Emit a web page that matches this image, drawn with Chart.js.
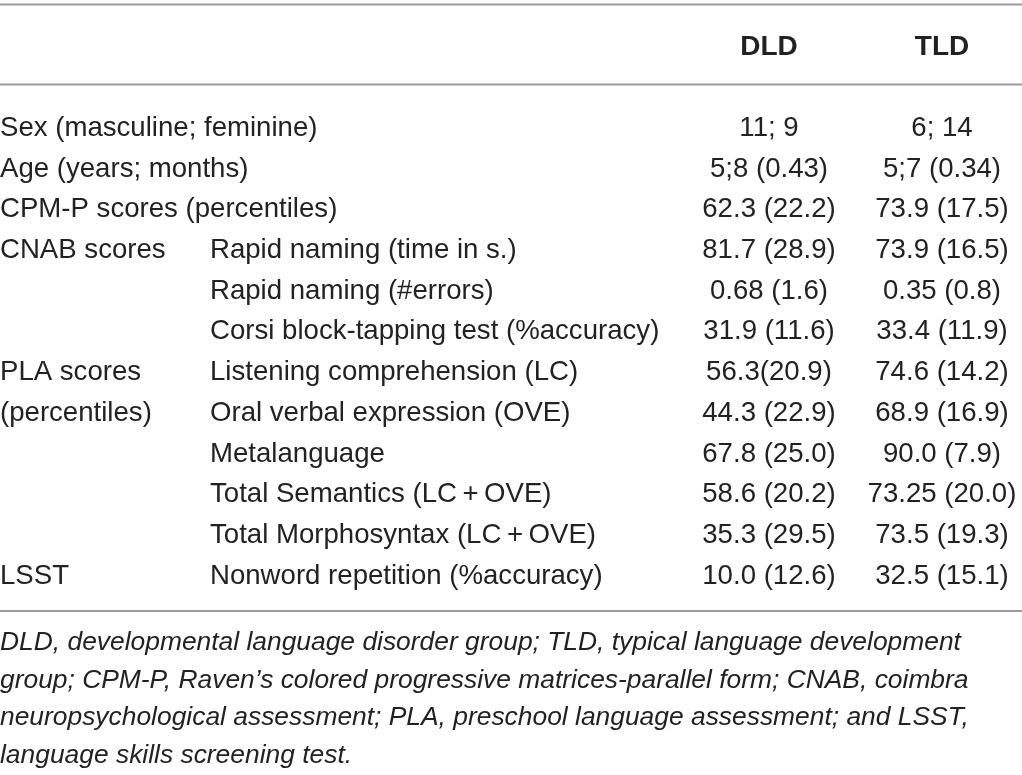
<!DOCTYPE html>
<html>
<head>
<meta charset="utf-8">
<title>DLD / TLD sample characteristics</title>
<script src="https://cdn.jsdelivr.net/npm/chart.js@4.4.1/dist/chart.umd.min.js"></script>
<style>
  html, body { margin: 0; padding: 0; background: #fff; }
  #wrap { width: 1022px; height: 775px; }
</style>
</head>
<body>
<div id="wrap"><canvas id="table" width="1022" height="775"></canvas></div>
<script>
// Table content
const columnHeaders = ['DLD', 'TLD'];

const rowGroups = [
    'Sex (masculine; feminine)',
    'Age (years; months)',
    'CPM-P scores (percentiles)',
    'CNAB scores',
    '',
    '',
    'PLA scores',
    '(percentiles)',
    '',
    '',
    '',
    'LSST'
];

const rowMeasures = [
    '',
    '',
    '',
    'Rapid naming (time in s.)',
    'Rapid naming (#errors)',
    'Corsi block-tapping test (%accuracy)',
    'Listening comprehension (LC)',
    'Oral verbal expression (OVE)',
    'Metalanguage',
    'Total Semantics (LC\u2009+\u2009OVE)',
    'Total Morphosyntax (LC\u2009+\u2009OVE)',
    'Nonword repetition (%accuracy)'
];

const dldValues = [
    '11; 9', '5;8 (0.43)', '62.3 (22.2)', '81.7 (28.9)', '0.68 (1.6)', '31.9 (11.6)',
    '56.3(20.9)', '44.3 (22.9)', '67.8 (25.0)', '58.6 (20.2)', '35.3 (29.5)', '10.0 (12.6)'
];

const tldValues = [
    '6; 14', '5;7 (0.34)', '73.9 (17.5)', '73.9 (16.5)', '0.35 (0.8)', '33.4 (11.9)',
    '74.6 (14.2)', '68.9 (16.9)', '90.0 (7.9)', '73.25 (20.0)', '73.5 (19.3)', '32.5 (15.1)'
];

const footnoteLines = [
    'DLD, developmental language disorder group; TLD, typical language development',
    'group; CPM-P, Raven\u2019s colored progressive matrices-parallel form; CNAB, coimbra',
    'neuropsychological assessment; PLA, preschool language assessment; and LSST,',
    'language skills screening test.'
];

// Layout / style
const FONT = '"Liberation Sans", Arial, Helvetica, sans-serif';
const TEXT_COLOR = '#222';
const RULE_COLOR = '#9a9a9a';
const COL_GROUP = 0;
const COL_MEASURE = 210;
const COL_DLD = 769;
const COL_TLD = 942;
const RULES_Y = [4.5, 84.5, 611];
const HEADER_BASELINE = 55;
const FOOT_BASELINE = 650;
const FOOT_STEP = 37.7;
const CAP_OFFSET = 9.8; // half cap height, centers text on the row tick

const rowKeys = rowGroups.map((g, i) => i + ':' + g + rowMeasures[i]);

// Draws rules, header, row labels, cell values and footnote
const tablePlugin = {
    id: 'tableText',
    afterDatasetsDraw(chart) {
        const ctx = chart.ctx;
        const xs = chart.scales.x;
        const ys = chart.scales.y;
        ctx.save();

        // horizontal rules
        ctx.strokeStyle = RULE_COLOR;
        ctx.lineWidth = 2;
        RULES_Y.forEach(y => {
            ctx.beginPath();
            ctx.moveTo(0, y);
            ctx.lineTo(chart.width, y);
            ctx.stroke();
        });

        ctx.fillStyle = TEXT_COLOR;
        ctx.textBaseline = 'alphabetic';

        // column headers
        ctx.font = 'bold 28px ' + FONT;
        ctx.textAlign = 'center';
        chart.data.datasets.forEach((ds, d) => {
            ctx.fillText(columnHeaders[d], xs.getPixelForValue(ds.data[0].x), HEADER_BASELINE);
        });

        // row labels
        ctx.font = '27.6px ' + FONT;
        ctx.textAlign = 'left';
        rowKeys.forEach((key, i) => {
            const y = ys.getPixelForValue(i) + CAP_OFFSET;
            if (rowGroups[i]) ctx.fillText(rowGroups[i], xs.getPixelForValue(COL_GROUP), y);
            if (rowMeasures[i]) ctx.fillText(rowMeasures[i], xs.getPixelForValue(COL_MEASURE), y);
        });

        // cell values, placed on each dataset point
        ctx.textAlign = 'center';
        chart.data.datasets.forEach((ds, d) => {
            const meta = chart.getDatasetMeta(d);
            meta.data.forEach((pt, i) => {
                ctx.fillText(ds.cells[i], pt.x, pt.y + CAP_OFFSET);
            });
        });

        // footnote
        ctx.font = 'italic 26.4px ' + FONT;
        ctx.textAlign = 'left';
        footnoteLines.forEach((line, i) => {
            ctx.fillText(line, 0, FOOT_BASELINE + i * FOOT_STEP);
        });

        ctx.restore();
    }
};

const ctx = document.getElementById('table').getContext('2d');
new Chart(ctx, {
    type: 'scatter',
    data: {
        labels: rowKeys,
        datasets: [
            {
                label: columnHeaders[0],
                cells: dldValues,
                data: dldValues.map((v, i) => ({ x: COL_DLD, y: i })),
                pointRadius: 0
            },
            {
                label: columnHeaders[1],
                cells: tldValues,
                data: tldValues.map((v, i) => ({ x: COL_TLD, y: i })),
                pointRadius: 0
            }
        ]
    },
    options: {
        responsive: false,
        animation: false,
        events: [],
        layout: { padding: { top: 126, bottom: 201, left: 0, right: 0 } },
        plugins: {
            legend: { display: false },
            tooltip: { enabled: false },
            title: { display: false }
        },
        scales: {
            x: { type: 'linear', min: 0, max: 1022, display: false },
            y: { type: 'category', labels: rowKeys, offset: false, display: false }
        }
    },
    plugins: [tablePlugin]
});
</script>
</body>
</html>
